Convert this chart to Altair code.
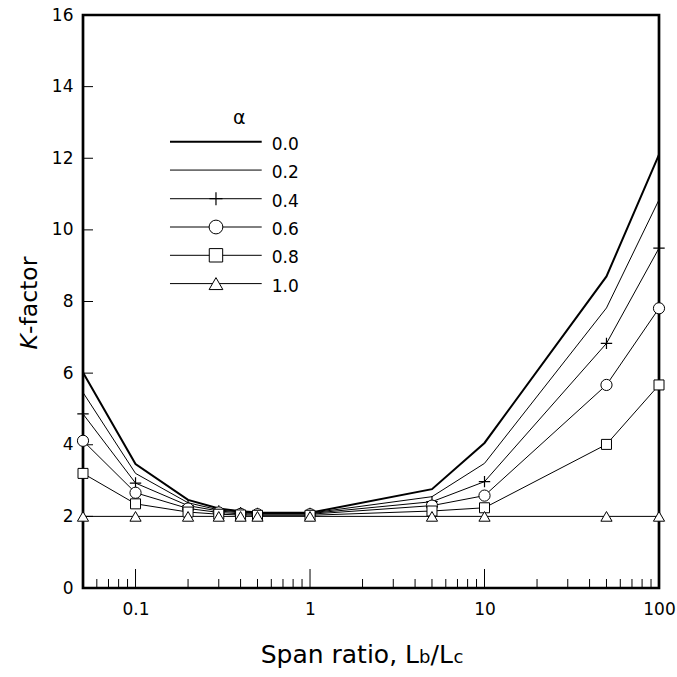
import altair as alt
import pandas as pd

# ---------------- data ----------------
span_ratio = [0.05, 0.1, 0.2, 0.3, 0.4, 0.5, 1, 5, 10, 50, 100]
k_a00 = [6.02, 3.46, 2.46, 2.22, 2.14, 2.11, 2.10, 2.76, 4.05, 8.70, 12.10]
k_a02 = [5.46, 3.20, 2.38, 2.18, 2.12, 2.10, 2.09, 2.55, 3.48, 7.82, 10.84]
k_a04 = [4.86, 2.93, 2.30, 2.15, 2.10, 2.08, 2.08, 2.41, 2.97, 6.83, 9.49]
k_a06 = [4.11, 2.66, 2.22, 2.11, 2.07, 2.06, 2.06, 2.30, 2.58, 5.67, 7.81]
k_a08 = [3.20, 2.35, 2.12, 2.06, 2.04, 2.03, 2.03, 2.15, 2.24, 4.01, 5.67]
k_a10 = [2.0, 2.0, 2.0, 2.0, 2.0, 2.0, 2.0, 2.0, 2.0, 2.0, 2.0]
alphas = ["0.0", "0.2", "0.4", "0.6", "0.8", "1.0"]
series = [k_a00, k_a02, k_a04, k_a06, k_a08, k_a10]

x_tick_labels = [0.1, 1, 10, 100]
x_minor = [0.06, 0.07, 0.08, 0.09, 0.2, 0.3, 0.4, 0.5, 0.6, 0.7, 0.8, 0.9,
           2, 3, 4, 5, 6, 7, 8, 9, 20, 30, 40, 50, 60, 70, 80, 90]
y_tick_labels = [0, 2, 4, 6, 8, 10, 12, 14, 16]

rows = []
for a, ks in zip(alphas, series):
    for xv, kv in zip(span_ratio, ks):
        rows.append({"x": xv, "k": kv, "alpha": a})
df = pd.DataFrame(rows)

# legend (in data units of the plot)
leg_k = [12.46, 11.67, 10.87, 10.08, 9.29, 8.50]
leg = pd.DataFrame({"alpha": alphas, "k": leg_k,
                    "x": [0.2891] * 6, "x0": [0.1576] * 6, "x1": [0.5286] * 6,
                    "xl": [0.603] * 6})

W, H = 576, 573
FONT = "DejaVu Sans"
xscale = alt.Scale(type="log", domain=[0.05, 100], nice=False)
yscale = alt.Scale(domain=[0, 16], nice=False, zero=False)

X_AX = alt.Axis(values=x_tick_labels, format="~g", ticks=False, tickSize=0,
                domain=False, grid=False, labelFont=FONT, labelFontSize=17,
                labelColor="black", labelPadding=13, labelFlush=False,
                labelOverlap=False, title="")
Y_AX = alt.Axis(values=y_tick_labels, ticks=False, tickSize=0, domain=False,
                grid=False, labelFont=FONT, labelFontSize=17, labelColor="black",
                labelPadding=10, labelFlush=False, labelOverlap=False, title="")


def X(field="x"):
    return alt.X(f"{field}:Q", scale=xscale, axis=X_AX)


def Y(field="k"):
    return alt.Y(f"{field}:Q", scale=yscale, axis=Y_AX)


# ---------------- inward ticks ----------------
xmaj = alt.Chart(pd.DataFrame({"x": x_tick_labels})).mark_rule(
    color="black", strokeWidth=1).encode(x=X(), y=alt.value(H), y2=alt.value(H - 19))
xmin = alt.Chart(pd.DataFrame({"x": x_minor})).mark_rule(
    color="black", strokeWidth=1).encode(x=X(), y=alt.value(H), y2=alt.value(H - 9))
ytk = alt.Chart(pd.DataFrame({"k": y_tick_labels[1:-1]})).mark_rule(
    color="black", strokeWidth=1).encode(y=Y(), x=alt.value(0), x2=alt.value(10))

# ---------------- curves ----------------
base = alt.Chart(df)
thick = base.transform_filter(alt.datum.alpha == "0.0").mark_line(
    color="black", strokeWidth=2).encode(x=X(), y=Y())
thin = base.transform_filter(alt.datum.alpha != "0.0").mark_line(
    color="black", strokeWidth=1).encode(x=X(), y=Y(), detail="alpha:N")

PLUS = "M-1,0H1M0,-1V1"


def pts(data, a, shape, size, hollow_fill=True, xf="x"):
    src = data.transform_filter(alt.datum.alpha == a)
    if hollow_fill:
        m = src.mark_point(shape=shape, size=size, filled=True, fill="white",
                           stroke="black", strokeWidth=1, opacity=1)
    else:
        m = src.mark_point(shape=shape, size=size, filled=False, color="black",
                           strokeWidth=1.2, opacity=1)
    return m.encode(x=X(xf), y=Y())


p_plus = pts(base, "0.4", PLUS, 130, hollow_fill=False)
p_circ = pts(base, "0.6", "circle", 125)
p_sq = pts(base, "0.8", "square", 100)
p_tri = pts(base, "1.0", "triangle-up", 125)

# ---------------- legend ----------------
lb = alt.Chart(leg)
leg_thick = lb.transform_filter(alt.datum.alpha == "0.0").mark_rule(
    color="black", strokeWidth=2).encode(x=X("x0"), x2="x1:Q", y=Y())
leg_thin = lb.transform_filter(alt.datum.alpha != "0.0").mark_rule(
    color="black", strokeWidth=1).encode(x=X("x0"), x2="x1:Q", y=Y())
l_plus = pts(lb, "0.4", PLUS, 170, hollow_fill=False)
l_circ = pts(lb, "0.6", "circle", 190)
l_sq = pts(lb, "0.8", "square", 180)
l_tri = pts(lb, "1.0", "triangle-up", 190)
leg_lab = lb.mark_text(font=FONT, fontSize=17, align="left", baseline="alphabetic",
                       dy=8, color="black").encode(x=X("xl"), y=Y(), text="alpha:N")

one = pd.DataFrame({"t": [0]})
leg_title = alt.Chart(one).mark_text(text="α", font=FONT, fontSize=19, align="center",
                                     baseline="alphabetic", color="black").encode(
    x=alt.value(156.3), y=alt.value(108.5))

# ---------------- axis titles ----------------
yt_k = alt.Chart(one).mark_text(text="K", font=FONT, fontSize=23.5, fontStyle="italic",
                                angle=270, align="right", baseline="alphabetic",
                                color="black").encode(x=alt.value(-46), y=alt.value(319))
yt_f = alt.Chart(one).mark_text(text="-factor", font=FONT, fontSize=23.5, angle=270,
                                align="left", baseline="alphabetic",
                                color="black").encode(x=alt.value(-46), y=alt.value(319))
XT_Y = 647.5
xt1 = alt.Chart(one).mark_text(text="Span ratio, L", font=FONT, fontSize=25, align="right",
                               baseline="alphabetic", color="black").encode(
    x=alt.value(336), y=alt.value(XT_Y))
xt2 = alt.Chart(one).mark_text(text="b", font=FONT, fontSize=18, align="left",
                               baseline="alphabetic", color="black").encode(
    x=alt.value(336), y=alt.value(XT_Y))
xt3 = alt.Chart(one).mark_text(text="/L", font=FONT, fontSize=25, align="left",
                               baseline="alphabetic", color="black").encode(
    x=alt.value(347.5), y=alt.value(XT_Y))
xt4 = alt.Chart(one).mark_text(text="c", font=FONT, fontSize=18, align="left",
                               baseline="alphabetic", color="black").encode(
    x=alt.value(370.5), y=alt.value(XT_Y))

chart = alt.layer(
    thick, thin, xmaj, xmin, ytk,
    p_plus, p_circ, p_sq, p_tri,
    leg_thick, leg_thin, l_plus, l_circ, l_sq, l_tri, leg_lab, leg_title,
    yt_k, yt_f, xt1, xt2, xt3, xt4,
).properties(
    width=W, height=H,
    autosize=alt.AutoSizeParams(type="none"),
    padding={"left": 83, "top": 15, "right": 18, "bottom": 89},
    background="white",
).configure_view(stroke="black", strokeWidth=2.7)

chart.save("out.html", embed_options={"renderer": "svg", "actions": False})
